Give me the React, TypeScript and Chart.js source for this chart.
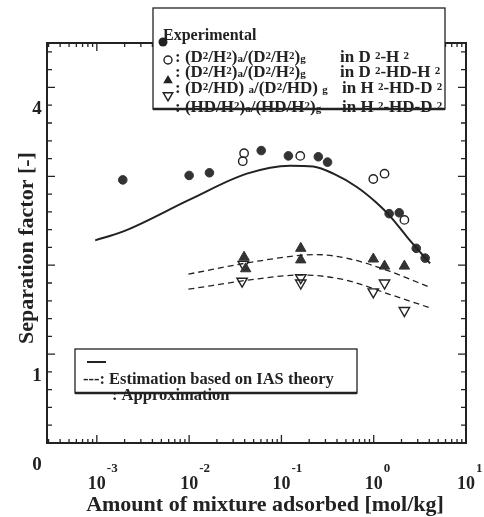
import { useEffect, useRef } from 'react';
import { Chart, registerables } from 'chart.js';

Chart.register(...registerables);

// ---- data ----
const filledCircleX = [0.00191, 0.0100, 0.0166, 0.0604, 0.119, 0.251, 0.316, 1.47, 1.89, 2.89, 3.61];
const filledCircleY = [2.96, 3.01, 3.04, 3.29, 3.23, 3.22, 3.16, 2.58, 2.59, 2.19, 2.08];

const openCircleX = [0.0394, 0.0381, 0.160, 0.99, 1.31, 2.15];
const openCircleY = [3.26, 3.17, 3.23, 2.97, 3.03, 2.51];

const filledTriX = [0.0394, 0.041, 0.162, 0.162, 0.99, 1.31, 2.15];
const filledTriY = [2.09, 1.96, 2.19, 2.06, 2.07, 1.99, 1.99];

const openTriX = [0.0386, 0.0375, 0.162, 0.162, 0.99, 1.31, 2.15];
const openTriY = [2.01, 1.82, 1.86, 1.80, 1.70, 1.80, 1.49];

const solidLineX = [0.00096, 0.00194, 0.01026, 0.0422, 0.124, 0.221, 0.366, 0.656, 1.08, 1.51, 2.29, 4.08];
const solidLineY = [2.28, 2.38, 2.74, 3.03, 3.12, 3.11, 3.03, 2.88, 2.70, 2.55, 2.32, 2.02];

const dashUpperX = [0.00982, 0.0588, 0.240, 0.555, 1.51, 4.08];
const dashUpperY = [1.90, 2.05, 2.12, 2.07, 1.93, 1.75];

const dashLowerX = [0.00982, 0.0588, 0.160, 0.466, 1.51, 4.08];
const dashLowerY = [1.73, 1.85, 1.89, 1.84, 1.67, 1.52];

const xTickExponents = [-3, -2, -1, 0, 1];
const yTickLabels = [0, 1, 4];

const X_MIN = Math.pow(10, -3.54);
const X_MAX = 10;
const Y_MIN = 0;
const Y_MAX = 4.5;

const INK = '#222';
const SERIF = '"Liberation Serif", "DejaVu Serif", serif';

const pts = (xs: number[], ys: number[]) => xs.map((x, i) => ({ x, y: ys[i] }));

type Run = { t: string; s?: number; dy?: number };

function drawRuns(ctx: CanvasRenderingContext2D, x: number, y: number, runs: Run[], base: number) {
  let cx = x;
  for (const r of runs) {
    const size = r.s ?? base;
    ctx.font = `bold ${size}px ${SERIF}`;
    ctx.fillText(r.t, cx, y + (r.dy ?? 0));
    cx += ctx.measureText(r.t).width;
  }
}

function triangle(ctx: CanvasRenderingContext2D, x: number, y: number, r: number, down: boolean, fill: boolean) {
  const h = r * 1.5;
  const w = r * 0.87 * 2;
  ctx.beginPath();
  if (!down) {
    ctx.moveTo(x, y - h * 0.6);
    ctx.lineTo(x + w / 2, y + h * 0.4);
    ctx.lineTo(x - w / 2, y + h * 0.4);
  } else {
    ctx.moveTo(x, y + h * 0.6);
    ctx.lineTo(x + w / 2, y - h * 0.4);
    ctx.lineTo(x - w / 2, y - h * 0.4);
  }
  ctx.closePath();
  if (fill) ctx.fill();
  else ctx.stroke();
}

const decorPlugin = {
  id: 'decor',
  afterDraw(chart: any) {
    const ctx: CanvasRenderingContext2D = chart.ctx;
    const { left, right, top, bottom } = chart.chartArea;
    const xs = chart.scales.x;
    const ys = chart.scales.y;
    ctx.save();
    ctx.strokeStyle = INK;
    ctx.fillStyle = INK;

    // frame
    ctx.lineWidth = 2;
    ctx.strokeRect(left, top, right - left, bottom - top);

    // y ticks (inward, both sides)
    ctx.lineWidth = 1.3;
    for (let k = 1; k * 0.2 < Y_MAX - 0.01; k++) {
      const v = k * 0.2;
      const py = ys.getPixelForValue(v);
      const major = k % 5 === 0;
      const len = major ? 8 : 5;
      ctx.beginPath();
      ctx.moveTo(left, py);
      ctx.lineTo(left + len, py);
      ctx.moveTo(right, py);
      ctx.lineTo(right - len, py);
      ctx.stroke();
    }

    // x ticks (inward, top and bottom)
    for (let e = -4; e <= 0; e++) {
      for (let m = 1; m <= 9; m++) {
        const v = m * Math.pow(10, e);
        if (v <= X_MIN * 1.02 || v >= X_MAX * 0.999) continue;
        const px = xs.getPixelForValue(v);
        const len = m === 1 ? 8 : 4;
        ctx.beginPath();
        ctx.moveTo(px, bottom);
        ctx.lineTo(px, bottom - len);
        ctx.moveTo(px, top);
        ctx.lineTo(px, top + len);
        ctx.stroke();
      }
    }

    // x tick labels 10^n
    ctx.textBaseline = 'middle';
    for (const e of xTickExponents) {
      const px = xs.getPixelForValue(Math.pow(10, e));
      ctx.font = `bold 18px ${SERIF}`;
      ctx.textAlign = 'center';
      const w = ctx.measureText('10').width;
      ctx.fillText('10', px, 484);
      ctx.font = `bold 13px ${SERIF}`;
      ctx.textAlign = 'left';
      ctx.fillText(String(e), px + w / 2 + 1, 469);
    }

    // y tick labels (printed slightly below their ticks, as in the source)
    ctx.font = `bold 19px ${SERIF}`;
    ctx.textAlign = 'center';
    for (const v of yTickLabels) {
      ctx.fillText(String(v), 37, ys.getPixelForValue(v) + 22);
    }

    // axis titles
    ctx.font = `bold 22px ${SERIF}`;
    ctx.textAlign = 'center';
    ctx.fillText('Amount of mixture adsorbed [mol/kg]', 265, 505);
    ctx.save();
    ctx.translate(27, 248);
    ctx.rotate(-Math.PI / 2);
    ctx.fillText('Separation factor [-]', 0, 0);
    ctx.restore();

    // ---- top legend box ----
    const bx = 153, by = 8, bw = 292, bh = 101;
    ctx.fillStyle = '#fff';
    ctx.fillRect(bx, by, bw, bh);
    ctx.fillStyle = INK;
    ctx.textAlign = 'left';
    ctx.textBaseline = 'alphabetic';
    ctx.font = `bold 16px ${SERIF}`;
    ctx.fillText('Experimental', 163, 40);
    const B = 17;
    const sub = 11;
    const line2: Run[] = [
      { t: ': (D' }, { t: '2', s: sub, dy: -3 }, { t: '/H' }, { t: '2', s: sub, dy: -3 }, { t: ')' },
      { t: 'a', s: sub }, { t: '/(D' }, { t: '2', s: sub, dy: -3 }, { t: '/H' }, { t: '2', s: sub, dy: -3 },
      { t: ')' }, { t: 'g', s: sub },
    ];
    drawRuns(ctx, 175, 62, line2, B);
    drawRuns(ctx, 340, 62, [{ t: 'in D ' }, { t: '2', s: sub, dy: -3 }, { t: '-H ' }, { t: '2', s: sub, dy: -3 }], B);
    drawRuns(ctx, 175, 77, line2, B);
    drawRuns(ctx, 340, 77, [{ t: 'in D ' }, { t: '2', s: sub, dy: -3 }, { t: '-HD-H ' }, { t: '2', s: sub, dy: -3 }], B);
    drawRuns(ctx, 175, 93, [
      { t: ': (D' }, { t: '2', s: sub, dy: -3 }, { t: '/HD) ' }, { t: 'a', s: sub }, { t: '/(D' },
      { t: '2', s: sub, dy: -3 }, { t: '/HD) ' }, { t: 'g', s: sub },
    ], B);
    drawRuns(ctx, 342, 93, [{ t: 'in H ' }, { t: '2', s: sub, dy: -3 }, { t: '-HD-D ' }, { t: '2', s: sub, dy: -3 }], B);
    drawRuns(ctx, 175, 112, [
      { t: ': (HD/H' }, { t: '2', s: sub, dy: -3 }, { t: ')' }, { t: 'a', s: sub }, { t: '/(HD/H' },
      { t: '2', s: sub, dy: -3 }, { t: ')' }, { t: 'g', s: sub },
    ], B);
    drawRuns(ctx, 342, 112, [{ t: 'in H ' }, { t: '2', s: sub, dy: -3 }, { t: '-HD-D ' }, { t: '2', s: sub, dy: -3 }], B);

    ctx.lineWidth = 1.3;
    ctx.strokeRect(bx, by, bw, bh);
    ctx.lineWidth = 2.5;
    ctx.beginPath();
    ctx.moveTo(bx, by + bh);
    ctx.lineTo(bx + bw, by + bh);
    ctx.stroke();

    // legend markers
    ctx.beginPath();
    ctx.arc(163, 42, 4.5, 0, Math.PI * 2);
    ctx.fill();
    ctx.lineWidth = 1.4;
    ctx.beginPath();
    ctx.arc(168, 60, 4, 0, Math.PI * 2);
    ctx.stroke();
    triangle(ctx, 168, 80, 5.5, false, true);
    triangle(ctx, 168, 96, 5.5, true, false);

    // ---- bottom legend box ----
    const cx0 = 75, cy0 = 349, cw = 282, ch = 44;
    ctx.fillStyle = '#fff';
    ctx.fillRect(cx0, cy0, cw, ch);
    ctx.fillStyle = INK;
    ctx.lineWidth = 2;
    ctx.beginPath();
    ctx.moveTo(87, 362);
    ctx.lineTo(106, 362);
    ctx.stroke();
    ctx.font = `bold 16.5px ${SERIF}`;
    ctx.textBaseline = 'middle';
    ctx.fillText('---: Estimation based on IAS theory', 83, 380);
    ctx.fillText(': Approximation', 112, 396);
    ctx.lineWidth = 1.3;
    ctx.strokeRect(cx0, cy0, cw, ch);
    ctx.lineWidth = 2.5;
    ctx.beginPath();
    ctx.moveTo(cx0, cy0 + ch);
    ctx.lineTo(cx0 + cw, cy0 + ch);
    ctx.stroke();

    ctx.restore();
  },
};

export default function App() {
  const ref = useRef<HTMLCanvasElement | null>(null);

  useEffect(() => {
    if (!ref.current) return;
    const chart = new Chart(ref.current, {
      type: 'scatter',
      data: {
        datasets: [
          {
            data: pts(solidLineX, solidLineY),
            showLine: true,
            borderColor: INK,
            borderWidth: 2,
            pointRadius: 0,
            cubicInterpolationMode: 'monotone',
          } as any,
          {
            data: pts(dashUpperX, dashUpperY),
            showLine: true,
            borderColor: INK,
            borderWidth: 1.3,
            borderDash: [6, 4],
            pointRadius: 0,
            cubicInterpolationMode: 'monotone',
          } as any,
          {
            data: pts(dashLowerX, dashLowerY),
            showLine: true,
            borderColor: INK,
            borderWidth: 1.3,
            borderDash: [6, 4],
            pointRadius: 0,
            cubicInterpolationMode: 'monotone',
          } as any,
          {
            data: pts(filledCircleX, filledCircleY),
            pointStyle: 'circle',
            pointRadius: 4.3,
            backgroundColor: '#333',
            borderColor: '#333',
            borderWidth: 1,
          },
          {
            data: pts(openCircleX, openCircleY),
            pointStyle: 'circle',
            pointRadius: 4.2,
            backgroundColor: 'rgba(0,0,0,0)',
            borderColor: INK,
            borderWidth: 1.4,
          },
          {
            data: pts(filledTriX, filledTriY),
            pointStyle: 'triangle',
            pointRadius: 6,
            backgroundColor: '#333',
            borderColor: '#333',
            borderWidth: 1,
          },
          {
            data: pts(openTriX, openTriY),
            pointStyle: 'triangle',
            rotation: 180,
            pointRadius: 6,
            backgroundColor: 'rgba(0,0,0,0)',
            borderColor: INK,
            borderWidth: 1.4,
          } as any,
        ],
      },
      options: {
        responsive: false,
        animation: false,
        layout: { padding: { left: 47, right: 18, top: 43, bottom: 74 } },
        plugins: { legend: { display: false }, tooltip: { enabled: false } },
        scales: {
          x: { type: 'logarithmic', min: X_MIN, max: X_MAX, display: false },
          y: { type: 'linear', min: Y_MIN, max: Y_MAX, display: false },
        },
      },
      plugins: [decorPlugin],
    });
    return () => chart.destroy();
  }, []);

  return (
    <div style={{ position: 'absolute', left: 0, top: 0, width: 484, height: 517, background: '#fff' }}>
      <canvas ref={ref} width={484} height={517} style={{ display: 'block', width: 484, height: 517 }} />
    </div>
  );
}
